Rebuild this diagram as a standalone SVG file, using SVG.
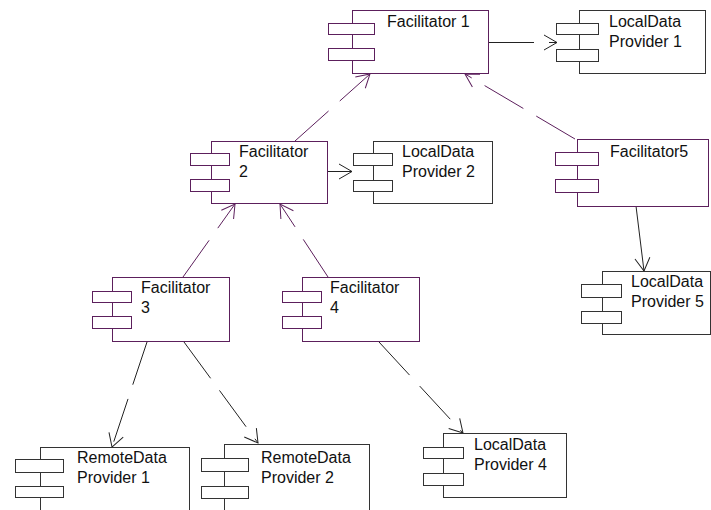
<svg xmlns="http://www.w3.org/2000/svg" width="711" height="510" viewBox="0 0 711 510">
  <style>
    .bg { fill: #ffffff; }
    .fac rect { fill: #ffffff; stroke: #5c1f5c; stroke-width: 1; }
    .prov rect { fill: #ffffff; stroke: #333333; stroke-width: 1; }
    text { font-family: "Liberation Sans", Arial, sans-serif; font-size: 16px; fill: #111111; }
    .dep { fill: none; stroke-width: 1; stroke-dasharray: 45 15; }
    .dep.p { stroke: #5c1f5c; marker-end: url(#arrowP); }
    .dep.k { stroke: #222222; marker-end: url(#arrowK); }
    .dep.solid { stroke-dasharray: none; }
  </style>
  <defs>
    <marker id="arrowP" viewBox="-16 -9 18 18" refX="0" refY="0" markerWidth="18" markerHeight="18" markerUnits="userSpaceOnUse" orient="auto">
      <path d="M-13,-7.5 L0,0 L-13,7.5" fill="none" stroke="#5c1f5c" stroke-width="1"/>
    </marker>
    <marker id="arrowK" viewBox="-16 -9 18 18" refX="0" refY="0" markerWidth="18" markerHeight="18" markerUnits="userSpaceOnUse" orient="auto">
      <path d="M-13,-7.5 L0,0 L-13,7.5" fill="none" stroke="#222222" stroke-width="1"/>
    </marker>
  </defs>
  <rect class="bg" x="0" y="0" width="711" height="510"/>

  <!-- dependency connectors -->
  <g id="connectors">
    <line class="dep p" x1="295" y1="141" x2="370" y2="74"/>
    <line class="dep p" x1="575" y1="139" x2="465" y2="74"/>
    <line class="dep p" x1="183" y1="277" x2="235" y2="204"/>
    <line class="dep p" x1="328" y1="277" x2="280" y2="204"/>
    <line class="dep k" x1="489" y1="42.5" x2="557" y2="42.5"/>
    <line class="dep k" x1="327" y1="171.5" x2="352" y2="171.5"/>
    <line class="dep k solid" x1="636" y1="206" x2="644" y2="271"/>
    <line class="dep k" x1="147" y1="342" x2="112" y2="447"/>
    <line class="dep k" x1="184" y1="342" x2="258" y2="443"/>
    <line class="dep k" x1="379" y1="342" x2="463" y2="433"/>
  </g>

  <!-- components -->
  <g id="facilitator1" class="fac">
    <rect x="352.5" y="10.5" width="136" height="63"/>
    <rect x="328.5" y="23.5" width="46" height="11"/>
    <rect x="328.5" y="48.5" width="46" height="12"/>
    <text x="387" y="27">Facilitator 1</text>
  </g>

  <g id="localdata1" class="prov">
    <rect x="579.5" y="10.5" width="126" height="63"/>
    <rect x="556.5" y="23.5" width="42" height="11"/>
    <rect x="556.5" y="49.5" width="42" height="12"/>
    <text x="609" y="27">LocalData</text>
    <text x="609" y="47">Provider 1</text>
  </g>

  <g id="facilitator2" class="fac">
    <rect x="211.5" y="141.5" width="116" height="62"/>
    <rect x="190.5" y="153.5" width="39" height="12"/>
    <rect x="190.5" y="179.5" width="39" height="12"/>
    <text x="239" y="157">Facilitator</text>
    <text x="239" y="177">2</text>
  </g>

  <g id="localdata2" class="prov">
    <rect x="373.5" y="141.5" width="119" height="62"/>
    <rect x="353.5" y="153.5" width="39" height="12"/>
    <rect x="353.5" y="180.5" width="39" height="11"/>
    <text x="402" y="157">LocalData</text>
    <text x="402" y="177">Provider 2</text>
  </g>

  <g id="facilitator5" class="fac">
    <rect x="577.5" y="139.5" width="131" height="67"/>
    <rect x="555.5" y="152.5" width="43" height="13"/>
    <rect x="555.5" y="179.5" width="43" height="13"/>
    <text x="610" y="157">Facilitator5</text>
  </g>

  <g id="localdata5" class="prov">
    <rect x="602.5" y="271.5" width="108" height="63"/>
    <rect x="581.5" y="284.5" width="40" height="13"/>
    <rect x="581.5" y="311.5" width="40" height="12"/>
    <text x="631" y="287">LocalData</text>
    <text x="631" y="307">Provider 5</text>
  </g>

  <g id="facilitator3" class="fac">
    <rect x="112.5" y="277.5" width="117" height="64"/>
    <rect x="92.5" y="291.5" width="39" height="11"/>
    <rect x="92.5" y="316.5" width="39" height="12"/>
    <text x="141" y="293">Facilitator</text>
    <text x="141" y="313">3</text>
  </g>

  <g id="facilitator4" class="fac">
    <rect x="302.5" y="277.5" width="117" height="64"/>
    <rect x="282.5" y="291.5" width="39" height="11"/>
    <rect x="282.5" y="316.5" width="39" height="12"/>
    <text x="330" y="293">Facilitator</text>
    <text x="330" y="313">4</text>
  </g>

  <g id="remotedata1" class="prov">
    <rect x="40.5" y="447.5" width="149" height="70"/>
    <rect x="15.5" y="459.5" width="48" height="13"/>
    <rect x="15.5" y="486.5" width="48" height="11"/>
    <text x="77" y="463">RemoteData</text>
    <text x="77" y="483">Provider 1</text>
  </g>

  <g id="remotedata2" class="prov">
    <rect x="224.5" y="444.5" width="145" height="70"/>
    <rect x="201.5" y="458.5" width="47" height="13"/>
    <rect x="201.5" y="486.5" width="47" height="12"/>
    <text x="261" y="463">RemoteData</text>
    <text x="261" y="483">Provider 2</text>
  </g>

  <g id="localdata4" class="prov">
    <rect x="443.5" y="433.5" width="123" height="64"/>
    <rect x="423.5" y="447.5" width="40" height="11"/>
    <rect x="423.5" y="473.5" width="40" height="12"/>
    <text x="474" y="450">LocalData</text>
    <text x="474" y="470">Provider 4</text>
  </g>
</svg>
